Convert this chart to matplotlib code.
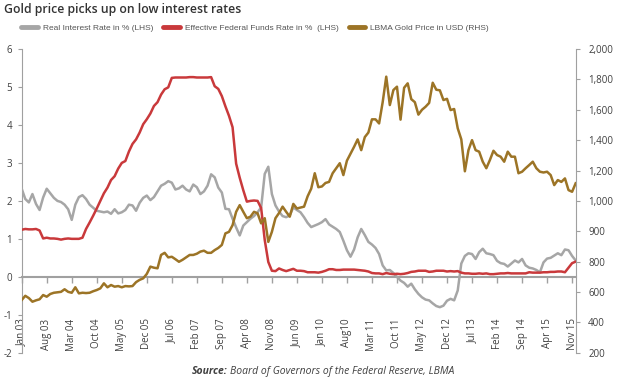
import numpy as np
import matplotlib
matplotlib.use("Agg")
import matplotlib.pyplot as plt
from matplotlib.lines import Line2D
from matplotlib.scale import FuncScale

# monthly values, Jan 03 .. Dec 15
real_rate = [
    2.32, 2.05, 1.96, 2.18, 1.92, 1.76, 2.09, 2.32, 2.20, 2.08,
    2.00, 1.97, 1.90, 1.78, 1.50, 1.90, 2.10, 2.15, 2.05, 1.90,
    1.82, 1.74, 1.72, 1.70, 1.72, 1.66, 1.78, 1.67, 1.70, 1.76,
    1.90, 1.88, 1.74, 1.95, 2.08, 2.14, 2.02, 2.10, 2.25, 2.40,
    2.45, 2.52, 2.48, 2.30, 2.33, 2.40, 2.30, 2.25, 2.43, 2.36,
    2.18, 2.25, 2.40, 2.70, 2.62, 2.35, 2.22, 1.79, 1.78, 1.53,
    1.30, 1.09, 1.35, 1.44, 1.53, 1.60, 1.70, 1.83, 2.71, 2.90,
    2.18, 1.88, 1.72, 1.60, 1.57, 1.62, 1.83, 1.76, 1.70, 1.57,
    1.42, 1.31, 1.35, 1.39, 1.44, 1.52, 1.38, 1.32, 1.26, 1.18,
    0.95, 0.70, 0.53, 0.72, 1.04, 1.26, 1.10, 0.92, 0.85, 0.76,
    0.60, 0.30, 0.17, 0.18, 0.10, 0.00, -0.10, -0.16, -0.26, -0.18,
    -0.33, -0.45, -0.54, -0.60, -0.62, -0.70, -0.77, -0.80, -0.76, -0.63,
    -0.58, -0.62, -0.36, 0.35, 0.55, 0.62, 0.60, 0.47, 0.65, 0.74,
    0.62, 0.60, 0.57, 0.42, 0.36, 0.34, 0.27, 0.35, 0.43, 0.38,
    0.47, 0.30, 0.24, 0.22, 0.18, 0.12, 0.38, 0.48, 0.50, 0.56,
    0.62, 0.57, 0.72, 0.70, 0.55, 0.43,
]

fed_funds = [
    1.24, 1.26, 1.25, 1.25, 1.26, 1.22, 1.01, 1.03, 1.01, 1.01,
    1.00, 0.98, 1.00, 1.01, 1.00, 1.00, 1.00, 1.03, 1.26, 1.43,
    1.61, 1.80, 2.00, 2.20, 2.35, 2.55, 2.65, 2.85, 3.00, 3.05,
    3.30, 3.50, 3.62, 3.80, 4.02, 4.15, 4.30, 4.50, 4.60, 4.80,
    4.94, 4.99, 5.24, 5.25, 5.25, 5.25, 5.25, 5.26, 5.26, 5.25,
    5.25, 5.25, 5.25, 5.26, 5.02, 4.95, 4.76, 4.49, 4.24, 3.94,
    2.98, 2.61, 2.28, 1.98, 2.00, 2.01, 2.00, 1.81, 0.97, 0.39,
    0.16, 0.15, 0.22, 0.18, 0.15, 0.18, 0.21, 0.16, 0.16, 0.15,
    0.12, 0.12, 0.12, 0.11, 0.13, 0.16, 0.20, 0.20, 0.18, 0.18,
    0.19, 0.19, 0.19, 0.19, 0.18, 0.17, 0.16, 0.14, 0.10, 0.09,
    0.09, 0.07, 0.10, 0.08, 0.07, 0.08, 0.07, 0.08, 0.10, 0.13,
    0.14, 0.16, 0.16, 0.16, 0.13, 0.14, 0.16, 0.16, 0.16, 0.14,
    0.15, 0.14, 0.15, 0.11, 0.09, 0.09, 0.08, 0.08, 0.09, 0.08,
    0.09, 0.07, 0.07, 0.08, 0.09, 0.09, 0.10, 0.09, 0.09, 0.09,
    0.09, 0.09, 0.12, 0.11, 0.11, 0.11, 0.12, 0.12, 0.13, 0.13,
    0.14, 0.14, 0.12, 0.24, 0.36, 0.40,
]

gold_price = [
    547, 575, 560, 536, 545, 552, 580, 569, 587, 595,
    598, 601, 618, 601, 595, 631, 591, 595, 593, 595,
    605, 613, 624, 657, 631, 646, 635, 639, 631, 639,
    637, 639, 665, 680, 690, 719, 767, 760, 756, 822,
    829, 814, 816, 808, 799, 806, 814, 822, 822, 826,
    833, 836, 829, 829, 838, 845, 855, 893, 898, 920,
    964, 986, 964, 943, 948, 964, 959, 926, 943, 865,
    898, 943, 960, 981, 964, 948, 990, 975, 978, 981,
    1030, 1080, 1182, 1090, 1095, 1118, 1125, 1182, 1215, 1248,
    1170, 1265, 1310, 1356, 1405, 1334, 1420, 1450, 1537, 1537,
    1510, 1650, 1818, 1631, 1730, 1752, 1535, 1745, 1774, 1670,
    1650, 1568, 1600, 1620, 1645, 1778, 1732, 1728, 1664, 1672,
    1598, 1605, 1478, 1405, 1195, 1334, 1400, 1334, 1324, 1258,
    1215, 1269, 1330, 1302, 1291, 1258, 1324, 1291, 1291, 1182,
    1192, 1215, 1236, 1258, 1215, 1192, 1187, 1192, 1170, 1104,
    1137, 1125, 1148, 1071, 1060, 1116,
]

x_labels = ['Jan 03', 'Aug 03', 'Mar 04', 'Oct 04', 'May 05', 'Dec 05',
            'Jul 06', 'Feb 07', 'Sep 07', 'Apr 08', 'Nov 08', 'Jun 09',
            'Jan 10', 'Aug10', 'Mar 11', 'Oct 11', 'May 12', 'Dec 12',
            'Jul 13', 'Feb 14', 'Sep 14', 'Apr 15', 'Nov 15']
left_ticks = [-2, -1, 0, 1, 2, 3, 4, 5, 6]
# right axis labels are evenly spaced on the original chart
right_ticks = [200, 400, 600, 800, 900, 1000, 1200, 1400, 1600, 1800, 2000]

GRAY = '#a6a6a6'
RED = '#c9393b'
GOLD = '#9c7426'
AXIS = '#a0a0a0'
TEXT = '#404040'

plt.rcParams['font.family'] = ['Open Sans', 'DejaVu Sans']

months = np.arange(len(gold_price))
idx = np.arange(len(right_ticks), dtype=float)


def to_idx(v):
    return np.interp(v, right_ticks, idx)


def from_idx(t):
    return np.interp(t, idx, right_ticks)


fig = plt.figure(figsize=(6.2, 3.83), dpi=100)
ax = fig.add_axes([0.035, 0.079, 0.8935, 0.793])
ax2 = ax.twinx()

ax.plot(months, real_rate, color=GRAY, lw=1.8, zorder=3)
ax.plot(months, fed_funds, color=RED, lw=1.8, zorder=4)
ax2.plot(months, gold_price, color=GOLD, lw=1.8)

ax.set_xlim(0, len(months) - 1)
ax.set_ylim(-2, 6)
ax.set_yticks(left_ticks)
ax.set_yticklabels([str(v) for v in left_ticks])

ax2.set_yscale(FuncScale(ax2, (to_idx, from_idx)))
ax2.set_ylim(200, 2000)
ax2.set_yticks(right_ticks)
ax2.set_yticklabels([f'{v:,}' for v in right_ticks])
ax2.minorticks_off()

ax.set_xticks(months[::7])
ax.set_xticklabels(x_labels)

for a in (ax, ax2):
    a.spines['top'].set_visible(False)
    a.patch.set_visible(False)
ax.spines['right'].set_visible(False)
ax2.spines['left'].set_visible(False)
ax2.spines['bottom'].set_visible(False)
ax.spines['bottom'].set_position(('data', 0))
ax.spines['bottom'].set_color(AXIS)
ax.spines['bottom'].set_linewidth(1.5)
ax.spines['left'].set_color(AXIS)
ax2.spines['right'].set_color(AXIS)

ax.tick_params(axis='x', direction='out', length=4, color=AXIS, width=1,
               pad=26, labelsize=7, labelcolor=TEXT, labelrotation=90)
ax.tick_params(axis='y', direction='out', length=3, color=AXIS,
               labelsize=7, labelcolor=TEXT, pad=4)
ax2.tick_params(axis='y', direction='out', length=3, color=AXIS,
                labelsize=7, labelcolor=TEXT, pad=6)

fig.text(0.006, 0.992, 'Gold price picks up on low interest rates',
         fontsize=8.8, fontweight='semibold', color='#333333',
         va='top', ha='left')

handles = [Line2D([], [], color=GRAY, lw=3.5, solid_capstyle='round'),
           Line2D([], [], color=RED, lw=3.5, solid_capstyle='round'),
           Line2D([], [], color=GOLD, lw=3.5, solid_capstyle='round')]
names = ['Real Interest Rate in % (LHS)',
         'Effective Federal Funds Rate in %  (LHS)',
         'LBMA Gold Price in USD (RHS)']
leg = fig.legend(handles, names, loc='center left', ncol=3,
                 bbox_to_anchor=(0.029, 0.927), frameon=False,
                 borderaxespad=0, handlelength=2.0, handletextpad=0.6,
                 columnspacing=1.2,
                 prop={'family': ['Liberation Sans Narrow', 'Liberation Sans'],
                       'size': 6.0})
for t in leg.get_texts():
    t.set_color('#555555')

fig.text(0.367, 0.029, 'Source:', fontsize=7.5, style='italic',
         fontweight='bold', color=TEXT, ha='right', va='center')
fig.text(0.371, 0.029, 'Board of Governors of the Federal Reserve, LBMA',
         fontsize=7.5, style='italic', color=TEXT, ha='left', va='center')

fig.savefig('out.png', dpi=100)
